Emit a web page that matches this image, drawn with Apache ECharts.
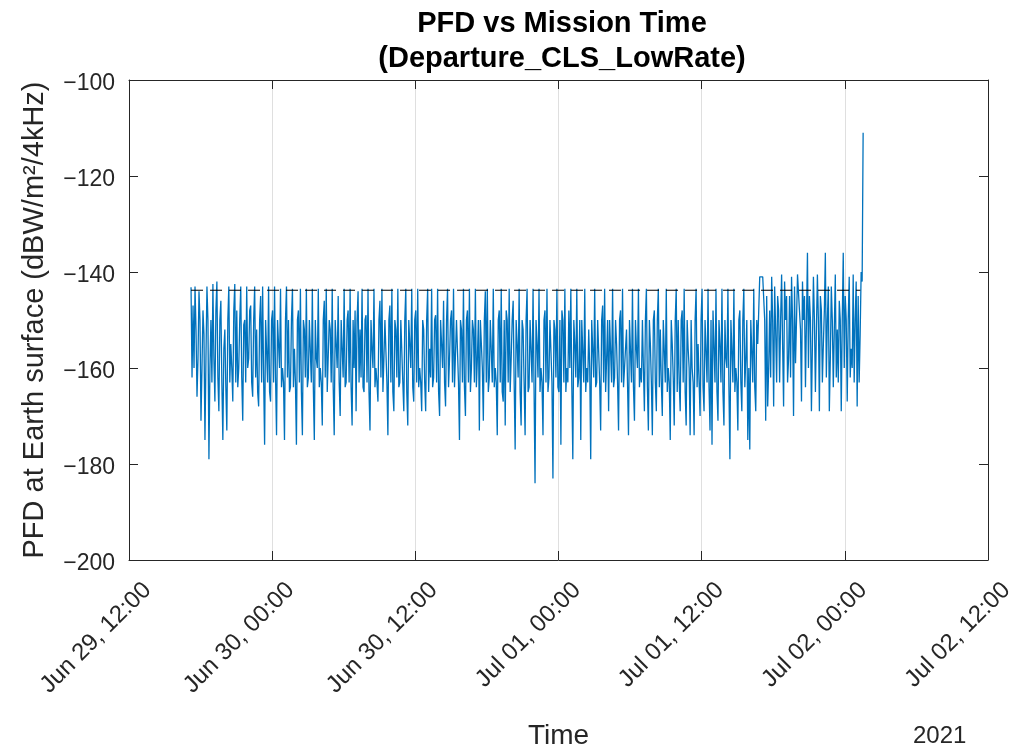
<!DOCTYPE html>
<html>
<head>
<meta charset="utf-8">
<script src="https://cdn.jsdelivr.net/npm/echarts@6/dist/echarts.min.js"></script>
<style>
html,body{margin:0;padding:0;background:#fff;}
#chart{width:1017px;height:755px;}
</style>
</head>
<body>
<div id="chart"></div>
<script>
// X tick labels (every 12 hours from Jun 29, 12:00)
const tickLabels = ['Jun 29, 12:00','Jun 30, 00:00','Jun 30, 12:00','Jul 01, 00:00','Jul 01, 12:00','Jul 02, 00:00','Jul 02, 12:00'];
// time of first sample (hours after Jun 29 12:00) and sampling step (5 min)
const startHour = 5.2;
const stepHour = 1/12;
// PFD samples (dBW/m^2/4kHz), even samples: peaks / dips
const pfdPeaks = [
-143.2,-147,-143,-166,-144,-171,-148,-175,-143,-179,
-150,-142.5,-167,-142,-169,-146,-175,-152,-173,-143,
-155,-167,-142.5,-148,-160,-143,-171,-150,-143,-158,
-147,-166,-143,-152,-168,-145,-143,-176,-150,-143,
-167,-148,-143,-174,-155,-143.5,-160,-175,-143,-150,
-164,-143.5,-156,-176,-148,-143.5,-174,-152,-143.5,-162,
-150,-143.5,-175,-158,-143.5,-160,-172,-146,-143.5,-165,
-152,-143.5,-174,-155,-145,-170,-150,-143.5,-163,-148,
-143.5,-172,-160,-169,-144,-152,-143.5,-165,-149,-143.5,
-173,-156,-143.5,-160,-167,-146,-143.5,-158,-150,-174,
-147,-143.5,-169,-152,-143.5,-163,-150,-169,-143.5,-172,
-155,-143.5,-167,-148,-143.5,-160,-169,-152,-169,-143.5,
-156,-143.5,-162,-149,-143.5,-170,-155,-146,-168,-143.5,
-158,-148,-143.5,-164,-150,-175,-152,-143.5,-170,-148,
-143.5,-160,-152,-143.5,-158,-173,-150,-171,-144,-143.5,
-162,-150,-143.5,-160,-174,-148,-143.5,-167,-172,-150,
-143.5,-158,-146,-177,-155,-143.5,-172,-152,-174,-143.5,
-164,-150,-143.5,-184,-155,-143.5,-160,-174,-148,-143.5,
-162,-150,-183,-152,-143.5,-165,-176,-150,-143.5,-160,
-148,-143.5,-179,-155,-143.5,-162,-175,-150,-143.5,-160,
-152,-179,-156,-143.5,-163,-150,-173,-147,-143.5,-158,
-169,-150,-143.5,-162,-155,-173,-148,-143.5,-160,-152,
-174,-150,-143.5,-171,-156,-143.5,-160,-150,-169,-143.5,
-173,-155,-174,-148,-169,-143.5,-152,-170,-150,-143.5,
-160,-175,-155,-172,-143.5,-150,-169,-148,-143.5,-172,
-156,-174,-160,-174,-143.5,-155,-170,-143.5,-169,-150,
-143.5,-173,-176,-148,-143.5,-171,-155,-143.5,-172,-158,
-143.5,-179,-150,-143.5,-160,-173,-148,-169,-143.5,-158,
-175,-177,-150,-143.5,-169,-155,-141,-141,-141,-171,
-168,-148,-141,-168,-152,-145,-163,-140.5,-168,-150,
-163,-145,-141,-170,-159,-140.5,-140.3,-167,-150,-164,
-136,-145,-169,-141,-165,-140.5,-169,-148,-155,-136,
-150,-169,-143,-164,-140.5,-152,-146,-169,-136,-145,
-167,-141,-156,-140.5,-150,-168,-163,-140,-111
];
// odd samples: values inside the dense band between peaks and dips
const pfdBand = [
-162,-160,-152,-158,-150,-160,-153,-158,-150,-160,
-163,-158,-148,-162,-150,-163,-156,-164,-150,-163,
-160,-148,-163,-164,-150,-162,-151,-163,-160,-148,
-163,-150,-162,-165,-150,-163,-162,-150,-163,-165,
-150,-163,-162,-150,-160,-164,-163,-150,-162,-165,
-150,-164,-163,-150,-163,-165,-150,-162,-164,-150,
-163,-164,-150,-160,-164,-163,-150,-162,-165,-150,
-163,-164,-150,-160,-163,-150,-162,-164,-150,-163,
-164,-150,-148,-150,-163,-162,-164,-150,-163,-165,
-150,-160,-164,-163,-150,-162,-165,-150,-163,-150,
-163,-165,-150,-162,-164,-150,-163,-150,-165,-150,
-160,-164,-150,-163,-164,-163,-150,-163,-150,-165,
-162,-164,-150,-163,-165,-150,-160,-163,-150,-164,
-150,-163,-164,-150,-163,-150,-163,-164,-150,-163,
-165,-150,-163,-164,-150,-150,-160,-150,-163,-165,
-150,-163,-164,-163,-150,-163,-165,-150,-148,-163,
-165,-150,-163,-150,-162,-165,-150,-163,-150,-165,
-150,-163,-164,-150,-162,-165,-163,-150,-163,-165,
-150,-163,-150,-162,-164,-150,-148,-163,-165,-163,
-160,-164,-150,-162,-164,-150,-150,-163,-165,-163,
-160,-150,-162,-164,-150,-163,-150,-163,-165,-150,
-150,-163,-164,-150,-163,-150,-163,-164,-160,-163,
-150,-163,-164,-150,-160,-164,-163,-160,-150,-164,
-150,-163,-150,-163,-150,-164,-163,-150,-163,-165,
-163,-150,-162,-150,-165,-163,-150,-163,-165,-150,
-160,-150,-163,-150,-164,-163,-150,-164,-150,-163,
-164,-150,-148,-163,-165,-150,-163,-165,-150,-160,
-164,-150,-163,-165,-163,-150,-163,-150,-164,-150,
-160,-150,-163,-164,-150,-148,-141,-141,-150,-145,
-160,-162,-150,-143,-163,-148,-150,-155,-142,-145,
-158,-162,-150,-143,-150,-140.4,-152,-142,-145,-150,
-160,-150,-155,-150,-152,-150,-145,-163,-148,-162,
-143,-158,-150,-152,-162,-163,-150,-150,-160,-150,
-150,-162,-160,-163,-142,-145,-153,-142
];
// dashed reference level and its time span (hours)
const thresholdLevel = -143.8;
const thresholdSpan = [5.2, 61.3];

const pfd = [];
pfdPeaks.forEach((v, i) => { pfd.push(v); if (i < pfdBand.length) pfd.push(pfdBand[i]); });
const blueData = pfd.map((v, i) => [startHour + i * stepHour, v]);
const dashData = thresholdSpan.map(h => [h, thresholdLevel]);

const axisColor = '#262626';
const font = 'Liberation Sans, Arial, Helvetica, sans-serif';

const chart = echarts.init(document.getElementById('chart'), null, {renderer: 'canvas'});
chart.setOption({
  animation: false,
  backgroundColor: '#ffffff',
  title: {
    text: 'PFD vs Mission Time\n(Departure_CLS_LowRate)',
    left: 562,
    textAlign: 'center',
    top: 6,
    padding: 0,
    textStyle: {fontFamily: font, fontSize: 29, fontWeight: 'bold', color: '#000000', lineHeight: 35}
  },
  grid: {left: 129, right: 22, top: 80, bottom: 190, containLabel: false},
  xAxis: [{
    type: 'value', min: 0, max: 72, interval: 12, position: 'bottom',
    name: 'Time', nameLocation: 'middle', nameGap: 162,
    nameTextStyle: {fontFamily: font, fontSize: 28, color: axisColor},
    axisLine: {show: true, onZero: false, lineStyle: {color: axisColor, width: 1}},
    axisTick: {show: true, inside: true, length: 9, lineStyle: {color: axisColor}},
    splitLine: {show: true, lineStyle: {color: '#dfdfdf', width: 1}},
    axisLabel: {
      rotate: 45, margin: 8, fontFamily: font, fontSize: 24, color: axisColor,
      verticalAlign: 'top', padding: [14, 0, 0, 0],
      formatter: v => tickLabels[Math.round(v / 12)] || ''
    }
  }, {
    type: 'value', min: 0, max: 72, interval: 12, position: 'top',
    axisLine: {show: true, onZero: false, lineStyle: {color: axisColor, width: 1}},
    axisTick: {show: true, inside: true, length: 9, lineStyle: {color: axisColor}},
    splitLine: {show: false}, axisLabel: {show: false}
  }],
  yAxis: [{
    type: 'value', min: -200, max: -100, interval: 20, position: 'left',
    name: 'PFD at Earth surface (dBW/m\u00B2/4kHz)', nameLocation: 'middle', nameRotate: 90, nameGap: 80,
    nameTextStyle: {fontFamily: font, fontSize: 29, color: axisColor},
    axisLine: {show: true, onZero: false, lineStyle: {color: axisColor, width: 1}},
    axisTick: {show: true, inside: true, length: 9, lineStyle: {color: axisColor}},
    splitLine: {show: false},
    axisLabel: {margin: 14, fontFamily: font, fontSize: 23, color: axisColor,
      formatter: v => '{t|' + String(v).replace('-', '\u2212') + '}',
      rich: {t: {fontFamily: font, fontSize: 23, color: axisColor, padding: [7, 0, 0, 0]}}}
  }, {
    type: 'value', min: -200, max: -100, interval: 20, position: 'right',
    axisLine: {show: true, onZero: false, lineStyle: {color: axisColor, width: 1}},
    axisTick: {show: true, inside: true, length: 9, lineStyle: {color: axisColor}},
    splitLine: {show: false}, axisLabel: {show: false}
  }],
  graphic: [{
    type: 'text', left: 913, top: 724,
    style: {text: '2021', fontFamily: font, fontSize: 24, fill: axisColor}
  }],
  series: [{
    type: 'line', xAxisIndex: 0, yAxisIndex: 0, data: blueData,
    showSymbol: false, symbol: 'none', silent: true,
    lineStyle: {color: '#0072BD', width: 1.3}, z: 2
  }, {
    type: 'line', xAxisIndex: 0, yAxisIndex: 0, data: dashData,
    showSymbol: false, symbol: 'none', silent: true,
    lineStyle: {color: '#000000', width: 1, type: [12, 7]}, z: 3
  }]
});
</script>
</body>
</html>
